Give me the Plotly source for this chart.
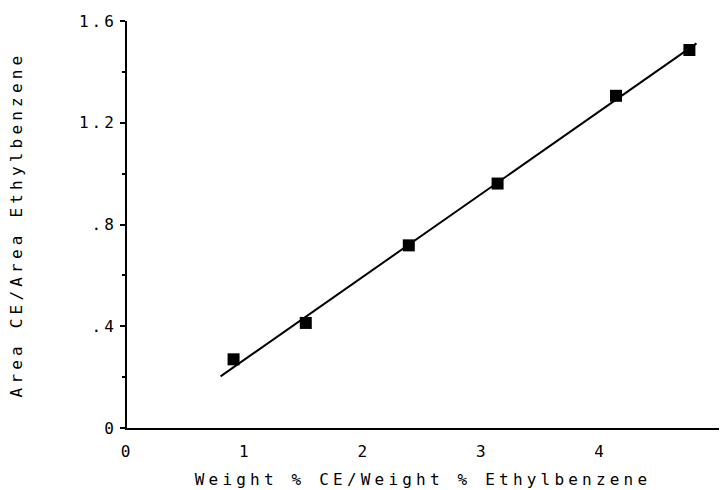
import plotly.graph_objects as go

# Data
x_pts = [0.90, 1.51, 2.38, 3.13, 4.13, 4.75]
y_pts = [0.27, 0.413, 0.718, 0.961, 1.306, 1.486]
fit_x = [0.79, 4.81]
fit_y = [0.203, 1.512]

x_ticks = [0, 1, 2, 3, 4, 5]
x_tick_labels = ["0", "1", "2", "3", "4", "5"]
y_ticks = [0, 0.4, 0.8, 1.2, 1.6]
y_tick_labels = ["0", ".4", ".8", "1.2", "1.6"]

x_title = "Weight % CE/Weight % Ethylbenzene"
y_title = "Area CE/Area Ethylbenzene"

FONT = "DejaVu Sans Mono"


def spaced(t, px):
    return '<span style="letter-spacing:%spx">%s</span>' % (px, t)


fig = go.Figure()
fig.add_trace(go.Scatter(x=fit_x, y=fit_y, mode="lines",
                         line=dict(color="black", width=2), showlegend=False))
fig.add_trace(go.Scatter(x=x_pts, y=y_pts, mode="markers",
                         marker=dict(symbol="square", size=12, color="black"),
                         showlegend=False))

fig.update_layout(
    width=724, height=490,
    margin=dict(l=127, r=5, t=21, b=62),
    paper_bgcolor="white", plot_bgcolor="white",
    font=dict(family=FONT, size=16, color="black"),
    xaxis=dict(
        range=[0, 5], showgrid=False, zeroline=False,
        showline=True, linecolor="black", linewidth=2,
        tickmode="array", tickvals=x_ticks,
        ticktext=[spaced(t, 3) for t in x_tick_labels],
        ticks="", ticklabelstandoff=8,
        title=dict(text=spaced(x_title, 4.2), standoff=14,
                   font=dict(family=FONT, size=16)),
    ),
    yaxis=dict(
        range=[0, 1.6], showgrid=False, zeroline=False,
        showline=True, linecolor="black", linewidth=2,
        tickmode="array", tickvals=y_ticks,
        ticktext=[spaced(t, 3) for t in y_tick_labels],
        ticks="outside", ticklen=5, tickwidth=1.5, tickcolor="black",
        minor=dict(dtick=0.2, ticks="outside", ticklen=3, tickwidth=1.5,
                   tickcolor="black", showgrid=False),
        title=dict(text=spaced(y_title, 4.2), standoff=52,
                   font=dict(family=FONT, size=16)),
    ),
)

fig.write_html("out.html")
